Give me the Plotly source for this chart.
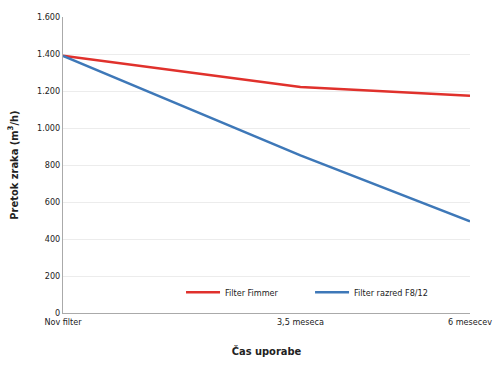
import plotly.graph_objects as go

months = [0, 3.5, 6]
tick_labels = ["Nov filter", "3,5 meseca", "6 mesecev"]
fimmer = [1390, 1222, 1175]
f812 = [1390, 852, 495]
y_ticks = [0, 200, 400, 600, 800, 1000, 1200, 1400, 1600]
y_tick_text = ["0", "200", "400", "600", "800", "1.000", "1.200", "1.400", "1.600"]

FONT = "DejaVu Sans Condensed, Liberation Sans Narrow, Roboto, sans-serif"

fig = go.Figure()
fig.add_trace(go.Scatter(x=months, y=fimmer, mode="lines", name="Filter Fimmer",
                         line=dict(color="#e0312c", width=2.5), legend="legend"))
fig.add_trace(go.Scatter(x=months, y=f812, mode="lines", name="Filter razred F8/12",
                         line=dict(color="#3e78b8", width=2.5), legend="legend2"))

leg_common = dict(xanchor="left", yanchor="middle", bgcolor="rgba(0,0,0,0)",
                  font=dict(size=9), itemwidth=34)

fig.update_layout(
    width=498, height=365,
    margin=dict(l=63, r=28, t=17, b=52, autoexpand=False),
    paper_bgcolor="white", plot_bgcolor="white",
    font=dict(family=FONT, size=9, color="#222"),
    showlegend=True,
    legend=dict(x=0.29, y=0.07, **leg_common),
    legend2=dict(x=0.607, y=0.07, **leg_common),
    xaxis=dict(range=[0, 6.0], tickmode="array", tickvals=months, ticktext=tick_labels,
               showgrid=False, showline=True, linecolor="#aaa", linewidth=1,
               zeroline=False, ticks="", fixedrange=True, automargin=False,
               title=dict(text="<b>Čas uporabe</b>", font=dict(size=11), standoff=21)),
    yaxis=dict(range=[0, 1600], tickmode="array", tickvals=y_ticks, ticktext=y_tick_text,
               showgrid=True, gridcolor="#ececec", gridwidth=1,
               showline=True, linecolor="#aaa", linewidth=1, zeroline=False,
               ticks="", fixedrange=True, automargin=False,
               title=dict(text="<b>Pretok zraka (m<sup>3</sup>/h)</b>", font=dict(size=11), standoff=16)),
)

fig.write_html("out.html", config={"displayModeBar": False},
               post_script="document.body.style.margin='0';")
